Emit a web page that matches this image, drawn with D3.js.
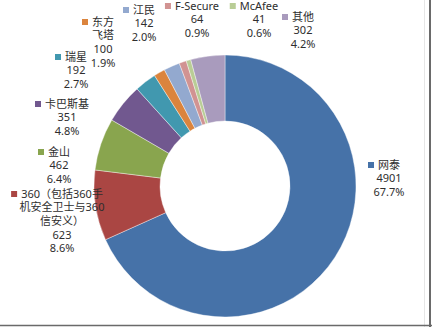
<!DOCTYPE html>
<html>
<head>
<meta charset="utf-8">
<script src="https://cdn.jsdelivr.net/npm/d3@7"></script>
<style>
  body { margin: 0; background: #fff; }
  svg { display: block; }
  text { font-family: "Noto Sans", "Noto Sans CJK SC", sans-serif; font-size: 11px; fill: #2e2e2e; }
</style>
</head>
<body>
<svg width="432" height="327"></svg>
<script>
// chart data, clockwise from 12 o'clock
const categories = ['网泰', '360（包括360手机安全卫士与360信安义）', '金山', '卡巴斯基', '瑞星', '东方飞塔', '江民', 'F-Secure', 'McAfee', '其他'];
const values = [4901, 623, 462, 351, 192, 100, 142, 64, 41, 302];
const percents = ['67.7%', '8.6%', '6.4%', '4.8%', '2.7%', '1.9%', '2.0%', '0.9%', '0.6%', '4.2%'];

const colors = ['#4672a8', '#aa4643', '#89a54e', '#71588f', '#4198af', '#db843d', '#93a9cf', '#d19392', '#b9cd96', '#a99bbd'];

// where each data label sits (center x, first line y) and how its name wraps
const labelLayout = [
    { cx: 389, y: 165, lines: ['网泰'] },
    { cx: 62, y: 194, lines: ['360（包括360手', '机安全卫士与360', '信安义）'] },
    { cx: 59, y: 152, lines: ['金山'] },
    { cx: 67, y: 104, lines: ['卡巴斯基'] },
    { cx: 76, y: 57, lines: ['瑞星'] },
    { cx: 103, y: 22, lines: ['东方', '飞塔'] },
    { cx: 144, y: 10, lines: ['江民'] },
    { cx: 197, y: 6, lines: ['F-Secure'] },
    { cx: 259, y: 6, lines: ['McAfee'] },
    { cx: 303, y: 17, lines: ['其他'] }
];

const svg = d3.select('svg');
const width = +svg.attr('width');
const height = +svg.attr('height');

const cx = 225, cy = 186;
const outerR = 131, innerR = 65;

const pie = d3.pie().sort(null).value(d => d);
const arc = d3.arc().innerRadius(innerR).outerRadius(outerR);
const color = d3.scaleOrdinal().domain(categories).range(colors);

svg.append('g')
    .attr('transform', `translate(${cx},${cy})`)
    .selectAll('path')
    .data(pie(values))
    .enter()
    .append('path')
        .attr('d', arc)
        .attr('fill', (d, i) => color(categories[i]))
        .attr('stroke', '#fff')
        .attr('stroke-width', 0.4);

// data labels: legend key + name lines, value, percent
const step = 13.6;
const labels = svg.append('g').selectAll('g')
    .data(categories)
    .enter()
    .append('g')
        .attr('transform', (d, i) => `translate(${labelLayout[i].cx},${labelLayout[i].y})`);

labels.each(function(d, i) {
    const g = d3.select(this);
    const lines = labelLayout[i].lines.concat([String(values[i]), percents[i]]);
    lines.forEach((t, k) => {
        g.append('text')
            .attr('x', 0)
            .attr('y', k * step)
            .attr('dy', '0.35em')
            .attr('text-anchor', 'middle')
            .text(t);
    });
    const w = g.select('text').node().getComputedTextLength();
    g.append('rect')
        .attr('x', -w / 2 - 10)
        .attr('y', -3)
        .attr('width', 6)
        .attr('height', 6)
        .attr('fill', colors[i]);
});

// frame edges seen at right and bottom
svg.append('line').attr('x1', 424.5).attr('x2', 424.5).attr('y1', 0).attr('y2', height)
    .attr('stroke', '#e6e6e6').attr('stroke-width', 1);
svg.append('line').attr('x1', 430).attr('x2', 430).attr('y1', 0).attr('y2', height)
    .attr('stroke', '#6a6a6a').attr('stroke-width', 2);
svg.append('line').attr('x1', 0).attr('x2', width).attr('y1', 325.5).attr('y2', 325.5)
    .attr('stroke', '#6a6a6a').attr('stroke-width', 1.5);
</script>
</body>
</html>
